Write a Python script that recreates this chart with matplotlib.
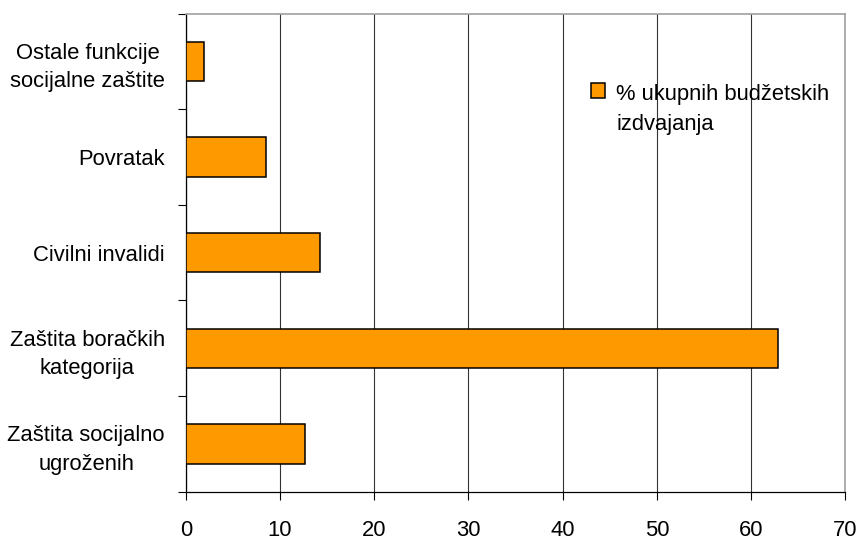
import matplotlib.pyplot as plt
from matplotlib.patches import Patch, Rectangle
from matplotlib.legend_handler import HandlerPatch
from matplotlib.ticker import FixedLocator

plt.rcParams['font.family'] = ['Liberation Sans', 'DejaVu Sans']

# kategorije odozgo prema dolje
kategorije = [
    "Ostale funkcije\nsocijalne zaštite",
    "Povratak",
    "Civilni invalidi",
    "Zaštita boračkih\nkategorija",
    "Zaštita socijalno\nugroženih",
]
udio = [1.9, 8.5, 14.2, 62.8, 12.7]
x_oznake = [0, 10, 20, 30, 40, 50, 60, 70]
naziv_serije = "% ukupnih budžetskih\nizdvajanja"

velicina = 15.8


def kvadrat_gore(legend, orig_handle, xdescent, ydescent, width, height, fontsize):
    # kvadratic uz prvi red teksta legende
    pomak = 0.87 * fontsize
    return Rectangle((-xdescent, -ydescent + pomak), width, height)


figura = plt.figure(figsize=(8.6, 5.41), dpi=100)
eixo = figura.add_axes([0.216, 0.091, 0.767, 0.884])

pozicije = list(range(len(kategorije)))
eixo.barh(pozicije, udio, height=0.41, color="#FF9900",
          edgecolor="black", linewidth=1.1, zorder=3)

eixo.set_ylim(len(kategorije) - 0.5, -0.5)
eixo.set_xlim(0, 70)

# mreza samo vertikalno
eixo.set_xticks(x_oznake)
eixo.xaxis.grid(True, color="#333333", linewidth=0.8, zorder=0)
eixo.tick_params(axis="x", length=6, width=0.8, pad=14, labelsize=velicina)

# oznake kategorija u sredini, crtice na granicama
eixo.set_yticks(pozicije)
eixo.set_yticklabels(kategorije, multialignment="center", linespacing=1.45)
eixo.tick_params(axis="y", which="major", length=0, pad=15, labelsize=velicina)
eixo.yaxis.set_minor_locator(FixedLocator([i - 0.5 for i in range(len(kategorije) + 1)]))
eixo.tick_params(axis="y", which="minor", length=6, width=0.8)

for strana in ["left", "bottom"]:
    eixo.spines[strana].set_color("black")
    eixo.spines[strana].set_linewidth(0.9)
for strana in ["top", "right"]:
    eixo.spines[strana].set_color("#a0a0a0")
    eixo.spines[strana].set_linewidth(1.2)

ruka = Patch(facecolor="#FF9900", edgecolor="black", linewidth=1.1)
legenda = eixo.legend([ruka], [naziv_serije], loc="upper left",
                      bbox_to_anchor=(0.598, 0.876), frameon=False,
                      fontsize=velicina, handlelength=0.65, handleheight=0.65,
                      handletextpad=0.5, borderpad=0,
                      handler_map={Patch: HandlerPatch(patch_func=kvadrat_gore)})
for tekst in legenda.get_texts():
    tekst.set_linespacing(1.6)

figura.savefig("out.png", dpi=100)
